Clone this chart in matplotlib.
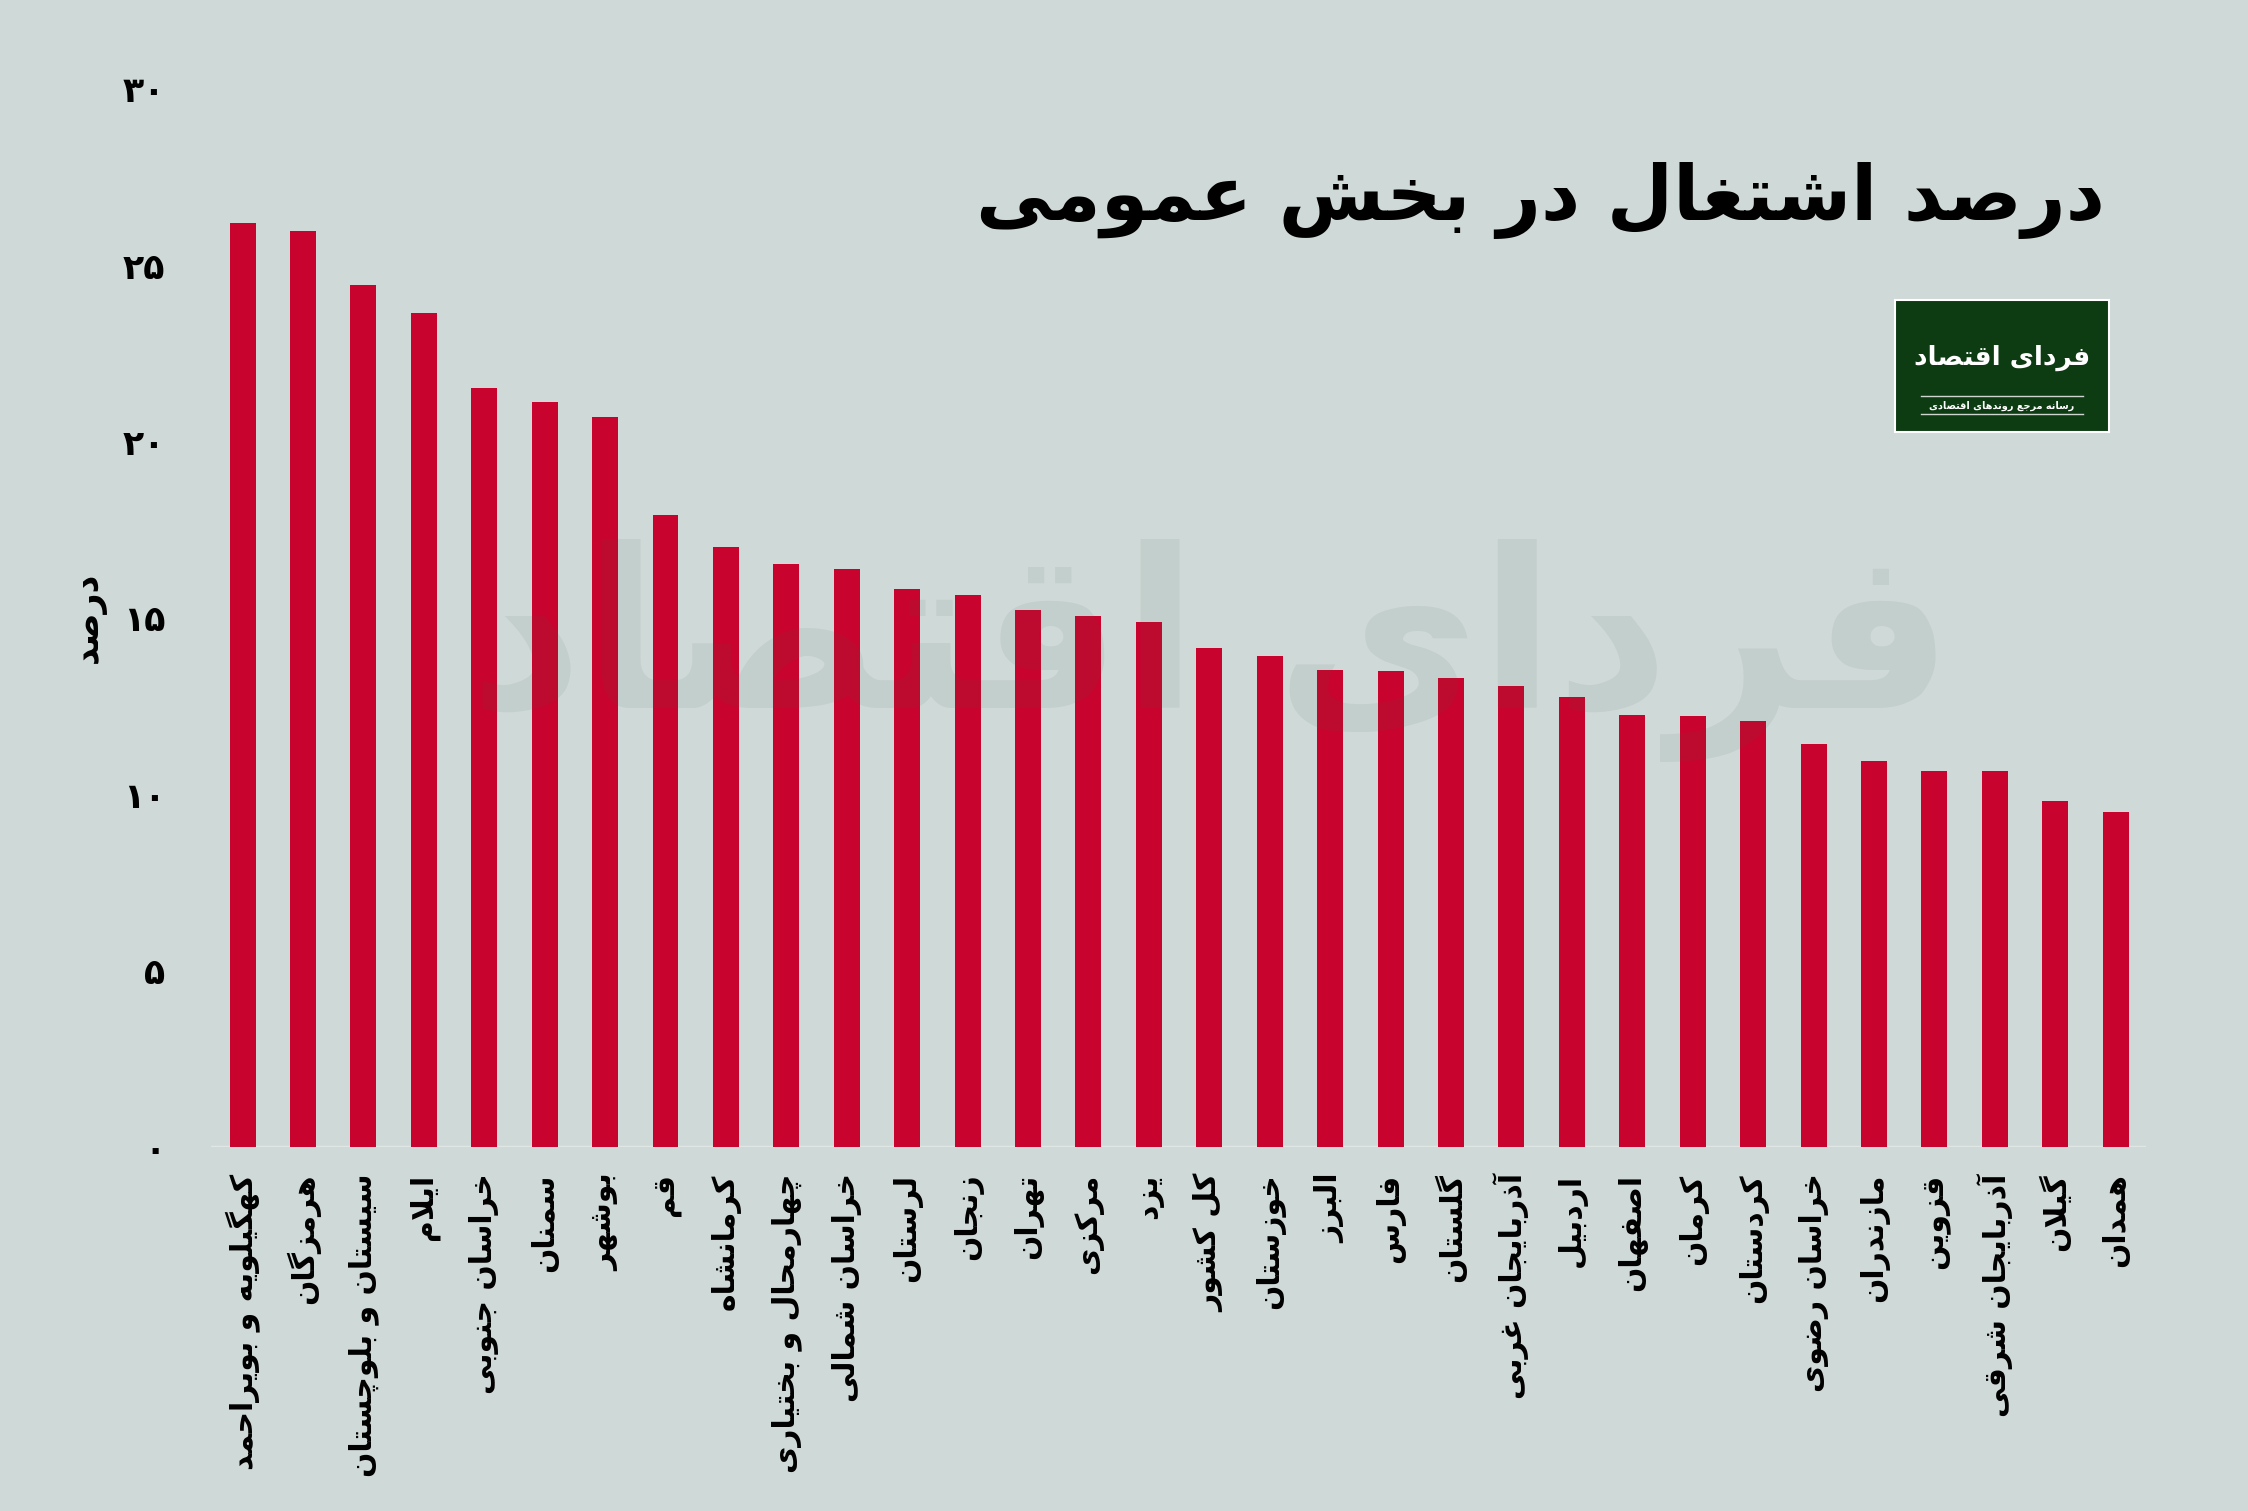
import numpy as np
import matplotlib
matplotlib.use("Agg")
import matplotlib.pyplot as plt

# provinces, left to right as in the chart
provinces = [
    "کهگیلویه و بویراحمد", "هرمزگان", "سیستان و بلوچستان", "ایلام", "خراسان جنوبی",
    "سمنان", "بوشهر", "قم", "کرمانشاه", "چهارمحال و بختیاری", "خراسان شمالی",
    "لرستان", "زنجان", "تهران", "مرکزی", "یزد", "کل کشور", "خوزستان", "البرز",
    "فارس", "گلستان", "آذربایجان غربی", "اردبیل", "اصفهان", "کرمان", "کردستان",
    "خراسان رضوی", "مازندران", "قزوین", "آذربایجان شرقی", "گیلان", "همدان",
]
# share of employment in the public sector (percent)
values = [
    26.2, 25.97, 24.44, 23.65, 21.52, 21.12, 20.7, 17.92, 17.01, 16.53, 16.39,
    15.82, 15.65, 15.23, 15.06, 14.89, 14.15, 13.92, 13.52, 13.5, 13.3, 13.07,
    12.76, 12.25, 12.22, 12.08, 11.43, 10.94, 10.66, 10.66, 9.81, 9.5,
]
y_ticks = [0, 5, 10, 15, 20, 25, 30]

title = "درصد اشتغال در بخش عمومی"
y_label = "درصد"
brand = "فردای اقتصاد"
brand_sub = "رسانه مرجع روندهای اقتصادی"

# matplotlib does no arabic shaping, so pick presentation forms by hand
# (isolated, final, initial, medial)
FORMS = {
    "ا": ("\uFE8D", "\uFE8E", "\uFE8D", "\uFE8E"),
    "آ": ("\uFE81", "\uFE82", "\uFE81", "\uFE82"),
    "ب": ("\uFE8F", "\uFE90", "\uFE91", "\uFE92"),
    "پ": ("\uFB56", "\uFB57", "\uFB58", "\uFB59"),
    "ت": ("\uFE95", "\uFE96", "\uFE97", "\uFE98"),
    "ث": ("\uFE99", "\uFE9A", "\uFE9B", "\uFE9C"),
    "ج": ("\uFE9D", "\uFE9E", "\uFE9F", "\uFEA0"),
    "چ": ("\uFB7A", "\uFB7B", "\uFB7C", "\uFB7D"),
    "ح": ("\uFEA1", "\uFEA2", "\uFEA3", "\uFEA4"),
    "خ": ("\uFEA5", "\uFEA6", "\uFEA7", "\uFEA8"),
    "د": ("\uFEA9", "\uFEAA", "\uFEA9", "\uFEAA"),
    "ذ": ("\uFEAB", "\uFEAC", "\uFEAB", "\uFEAC"),
    "ر": ("\uFEAD", "\uFEAE", "\uFEAD", "\uFEAE"),
    "ز": ("\uFEAF", "\uFEB0", "\uFEAF", "\uFEB0"),
    "ژ": ("\uFB8A", "\uFB8B", "\uFB8A", "\uFB8B"),
    "س": ("\uFEB1", "\uFEB2", "\uFEB3", "\uFEB4"),
    "ش": ("\uFEB5", "\uFEB6", "\uFEB7", "\uFEB8"),
    "ص": ("\uFEB9", "\uFEBA", "\uFEBB", "\uFEBC"),
    "ض": ("\uFEBD", "\uFEBE", "\uFEBF", "\uFEC0"),
    "ط": ("\uFEC1", "\uFEC2", "\uFEC3", "\uFEC4"),
    "ظ": ("\uFEC5", "\uFEC6", "\uFEC7", "\uFEC8"),
    "ع": ("\uFEC9", "\uFECA", "\uFECB", "\uFECC"),
    "غ": ("\uFECD", "\uFECE", "\uFECF", "\uFED0"),
    "ف": ("\uFED1", "\uFED2", "\uFED3", "\uFED4"),
    "ق": ("\uFED5", "\uFED6", "\uFED7", "\uFED8"),
    "ک": ("\uFB8E", "\uFB8F", "\uFB90", "\uFB91"),
    "گ": ("\uFB92", "\uFB93", "\uFB94", "\uFB95"),
    "ل": ("\uFEDD", "\uFEDE", "\uFEDF", "\uFEE0"),
    "م": ("\uFEE1", "\uFEE2", "\uFEE3", "\uFEE4"),
    "ن": ("\uFEE5", "\uFEE6", "\uFEE7", "\uFEE8"),
    "ه": ("\uFEE9", "\uFEEA", "\uFEEB", "\uFEEC"),
    "و": ("\uFEED", "\uFEEE", "\uFEED", "\uFEEE"),
    "ی": ("\uFBFC", "\uFBFD", "\uFBFE", "\uFBFF"),
}
RIGHT_ONLY = set("اآدذرزژو")
LAM_ALEF = {"ا": ("\uFEFB", "\uFEFC"), "آ": ("\uFEF5", "\uFEF6")}


def fa(text):
    chars = list(text)
    out = []
    k = 0
    while k < len(chars):
        ch = chars[k]
        if ch not in FORMS:
            out.append(ch)
            k += 1
            continue
        prev_join = k > 0 and chars[k - 1] in FORMS and chars[k - 1] not in RIGHT_ONLY
        if ch == "ل" and k + 1 < len(chars) and chars[k + 1] in LAM_ALEF:
            out.append(LAM_ALEF[chars[k + 1]][1 if prev_join else 0])
            k += 2
            continue
        next_join = ch not in RIGHT_ONLY and k + 1 < len(chars) and chars[k + 1] in FORMS
        iso, fin, ini, med = FORMS[ch]
        if prev_join and next_join:
            out.append(med)
        elif prev_join:
            out.append(fin)
        elif next_join:
            out.append(ini)
        else:
            out.append(iso)
        k += 1
    return "".join(reversed(out))


def fa_num(n):
    return str(n).translate(str.maketrans("0123456789", "۰۱۲۳۴۵۶۷۸۹"))


plt.rcParams["font.family"] = ["DejaVu Sans"]

bg = "#cfd9d7"
fig = plt.figure(figsize=(22.48, 15.11), dpi=100, facecolor=bg)
ax = fig.add_axes([0.0939, 0.2409, 0.8607, 0.7002])
ax.set_facecolor(bg)

x = np.arange(len(values))
ax.bar(x, values, width=0.43, color="#c8042e", zorder=2)
ax.axhline(0, color="#e0e6e4", lw=2.5, zorder=1)

ax.set_xlim(-0.52, len(values) - 0.5)
ax.set_ylim(0, 30)
ax.set_yticks(y_ticks)
ax.set_yticklabels([fa_num(t) for t in y_ticks], fontsize=25, fontweight="bold")
ax.set_xticks(x)
ax.set_xticklabels([fa(p) for p in provinces], rotation=90, fontsize=21.5, fontweight="bold")
ax.tick_params(axis="y", length=0, pad=33)
ax.tick_params(axis="x", length=0, pad=19)
for s in ax.spines.values():
    s.set_visible(False)

fig.text(89 / 2248, 1 - 617 / 1511, fa(y_label), rotation=90, ha="center", va="center",
         fontsize=25, fontweight="bold")

fig.text(0.9364, 0.867, fa(title), ha="right", va="center", fontsize=55, fontweight="bold")

# faint watermark over the bars
fig.text(1211 / 2248, 1 - 650 / 1511, fa(brand), ha="center", va="center", fontsize=160,
         fontweight="bold", color="#3f5f52", alpha=0.08, zorder=5)

# logo box
lax = fig.add_axes([0.843, 0.7141, 0.0952, 0.0874])
lax.set_facecolor("#0d3b12")
lax.set_xticks([])
lax.set_yticks([])
lax.set_xlim(0, 1)
lax.set_ylim(0, 1)
for s in lax.spines.values():
    s.set_color("white")
    s.set_linewidth(1.5)
lax.text(0.5, 0.56, fa(brand), ha="center", va="center", fontsize=19, fontweight="bold", color="white")
lax.plot([0.12, 0.88], [0.27, 0.27], color="#cfd6cf", lw=1)
lax.plot([0.12, 0.88], [0.135, 0.135], color="#cfd6cf", lw=1)
lax.text(0.5, 0.2, fa(brand_sub), ha="center", va="center", fontsize=7, fontweight="bold", color="white")

fig.savefig("out.png", dpi=100, facecolor=bg)
